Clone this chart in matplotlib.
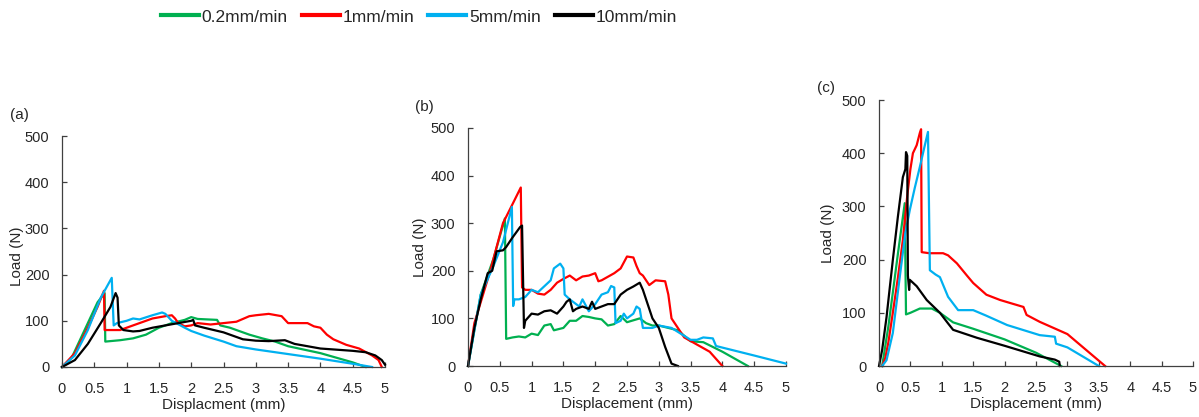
import matplotlib
matplotlib.use('Agg')
from matplotlib import pyplot
from matplotlib.lines import Line2D

# ---- data ----
rates = ['0.2mm/min', '1mm/min', '5mm/min', '10mm/min']
colours = ['#00B050', '#FF0000', '#00B0F0', '#000000']

# panel (a)
a_green_x = [0, 0.15, 0.35, 0.55, 0.66, 0.67, 0.9, 1.1, 1.3, 1.5, 1.7, 1.9, 2.0, 2.1, 2.4, 2.45, 2.6, 2.9, 3.1, 3.3, 3.5, 4.0, 4.5, 4.7]
a_green_y = [0, 20, 80, 140, 160, 55, 58, 62, 70, 85, 95, 102, 108, 104, 102, 90, 85, 70, 62, 55, 45, 30, 10, 0]
a_red_x = [0, 0.2, 0.4, 0.55, 0.65, 0.66, 0.9, 1.0, 1.2, 1.4, 1.6, 1.7, 1.75, 1.8, 1.9, 2.0, 2.1, 2.3, 2.5, 2.7, 2.9, 3.0, 3.2, 3.4, 3.5, 3.8, 3.9, 4.0, 4.1, 4.2, 4.4, 4.6, 4.8, 4.9, 4.95]
a_red_y = [0, 30, 85, 130, 165, 80, 80, 85, 95, 105, 110, 112, 105, 95, 88, 90, 95, 92, 95, 98, 110, 112, 115, 110, 95, 95, 88, 85, 70, 60, 48, 40, 25, 15, 0]
a_blue_x = [0, 0.2, 0.4, 0.6, 0.77, 0.8, 0.85, 1.0, 1.1, 1.2, 1.4, 1.55, 1.6, 1.7, 1.9, 2.0, 2.2, 2.5, 2.7, 3.0, 3.5, 4.0, 4.5, 4.8]
a_blue_y = [0, 25, 80, 150, 193, 90, 95, 100, 105, 103, 112, 118, 115, 100, 85, 78, 68, 55, 45, 38, 28, 18, 7, 0]
a_black_x = [0, 0.2, 0.4, 0.6, 0.75, 0.83, 0.86, 0.88, 0.95, 1.1, 1.2, 1.4, 1.6, 1.8, 2.0, 2.03, 2.06, 2.2, 2.5, 2.6, 2.8, 3.0, 3.2, 3.45, 3.6, 3.8, 4.0, 4.5, 4.7, 4.85, 4.95, 5.0]
a_black_y = [0, 15, 50, 95, 130, 160, 150, 90, 80, 77, 78, 85, 90, 95, 100, 102, 90, 85, 75, 70, 60, 57, 56, 58, 50, 45, 40, 35, 32, 25, 15, 5]

# panel (b)
b_green_x = [0, 0.2, 0.4, 0.58, 0.6, 0.7, 0.8, 0.9, 1.0, 1.1, 1.2, 1.3, 1.35, 1.5, 1.6, 1.7, 1.8, 1.9, 2.0, 2.1, 2.2, 2.3, 2.4, 2.5, 2.7, 2.8, 2.9, 3.0, 3.3, 3.5, 3.7, 4.0, 4.4]
b_green_y = [0, 150, 225, 310, 57, 60, 62, 60, 68, 65, 85, 88, 75, 80, 95, 95, 105, 103, 100, 98, 85, 88, 105, 92, 100, 90, 85, 85, 75, 52, 50, 30, 0]
b_red_x = [0, 0.1, 0.35, 0.55, 0.7, 0.83, 0.85, 0.9, 1.0, 1.1, 1.2, 1.3, 1.4, 1.5, 1.6, 1.7, 1.8, 1.9, 2.0, 2.05, 2.1, 2.3, 2.4, 2.5, 2.6, 2.65, 2.7, 2.75, 2.85, 2.95, 3.1, 3.15, 3.2, 3.3, 3.4, 3.6, 3.8, 4.0]
b_red_y = [0, 90, 200, 300, 340, 375, 165, 160, 160, 152, 150, 160, 175, 183, 190, 180, 188, 190, 195, 178, 180, 195, 205, 230, 228, 210, 195, 190, 170, 180, 178, 150, 100, 80, 60, 45, 30, 0]
b_blue_x = [0, 0.2, 0.4, 0.55, 0.69, 0.71, 0.73, 0.8, 0.9, 1.0, 1.1, 1.3, 1.35, 1.45, 1.5, 1.52, 1.6, 1.7, 1.75, 1.8, 1.9, 2.0, 2.1, 2.2, 2.25, 2.3, 2.32, 2.4, 2.45, 2.5, 2.6, 2.65, 2.7, 2.75, 2.9, 3.0, 3.2, 3.5, 3.6, 3.7, 3.85, 3.9, 4.5, 5.0]
b_blue_y = [0, 150, 210, 260, 334, 126, 140, 140, 145, 160, 155, 180, 205, 215, 205, 150, 140, 130, 125, 140, 115, 130, 150, 155, 168, 165, 90, 95, 110, 100, 110, 125, 120, 80, 80, 85, 80, 55, 55, 60, 58, 42, 22, 5]
b_black_x = [0, 0.1, 0.2, 0.31, 0.38, 0.45, 0.55, 0.6, 0.7, 0.82, 0.85, 0.88, 0.9, 1.0, 1.1, 1.2, 1.3, 1.4, 1.5, 1.55, 1.6, 1.65, 1.7, 1.8, 1.9, 1.95, 2.0, 2.1, 2.2, 2.3, 2.4, 2.5, 2.6, 2.7, 2.75, 2.8, 2.9, 3.0, 3.1, 3.2, 3.3]
b_black_y = [0, 80, 140, 195, 200, 241, 243, 250, 270, 292, 295, 80, 95, 110, 108, 115, 117, 110, 125, 135, 140, 115, 120, 125, 120, 135, 120, 125, 130, 130, 150, 160, 167, 175, 160, 140, 100, 80, 40, 5, 0]

# panel (c)
c_green_x = [0.05, 0.15, 0.3, 0.41, 0.43, 0.5, 0.65, 0.84, 0.97, 1.18, 1.5, 2.0, 2.5, 2.9]
c_green_y = [0, 75, 210, 306, 97, 100, 108, 108, 100, 82, 70, 50, 25, 0]
c_red_x = [0.05, 0.1, 0.15, 0.22, 0.3, 0.38, 0.45, 0.5, 0.54, 0.6, 0.65, 0.67, 0.68, 0.8, 1.02, 1.1, 1.24, 1.4, 1.5, 1.71, 1.93, 2.1, 2.3, 2.35, 2.56, 3.0, 3.6]
c_red_y = [0, 15, 45, 100, 165, 237, 320, 370, 400, 415, 438, 445, 214, 212, 212, 208, 193, 170, 156, 134, 124, 118, 111, 96, 83, 60, 0]
c_blue_x = [0.05, 0.12, 0.22, 0.33, 0.42, 0.49, 0.57, 0.65, 0.72, 0.78, 0.81, 0.9, 0.97, 1.1, 1.26, 1.5, 1.7, 2.04, 2.56, 2.8, 2.82, 3.0, 3.5]
c_blue_y = [0, 11, 62, 167, 250, 293, 335, 374, 410, 440, 180, 172, 167, 130, 105, 105, 95, 77, 58, 55, 42, 35, 0]
c_black_x = [0, 0.05, 0.12, 0.22, 0.3, 0.38, 0.42, 0.43, 0.45, 0.46, 0.48, 0.49, 0.6, 0.76, 0.97, 1.1, 1.18, 1.56, 2.0, 2.56, 2.8, 2.87, 2.88]
c_black_y = [0, 30, 92, 199, 280, 355, 370, 402, 395, 170, 143, 162, 150, 124, 100, 80, 68, 53, 38, 18, 12, 8, 0]

panel_tags = ['(a)', '(b)', '(c)']
xlabels = ['Displacment (mm)', 'Displacement (mm)', 'Displacement (mm)']
xticks = [0, 0.5, 1, 1.5, 2, 2.5, 3, 3.5, 4, 4.5, 5]
xticklabels = ['0', '0.5', '1', '1.5', '2', '2.5', '3', '3.5', '4', '4.5', '5']
yticks = [0, 100, 200, 300, 400, 500]

panels = [
    [(a_green_x, a_green_y), (a_red_x, a_red_y), (a_blue_x, a_blue_y), (a_black_x, a_black_y)],
    [(b_green_x, b_green_y), (b_red_x, b_red_y), (b_blue_x, b_blue_y), (b_black_x, b_black_y)],
    [(c_green_x, c_green_y), (c_red_x, c_red_y), (c_blue_x, c_blue_y), (c_black_x, c_black_y)],
]

# ---- layout (pixels measured on the 1199x417 picture) ----
W, H = 1199., 417.
boxes = [(62, 136, 385, 367), (468, 128, 786, 366), (879, 100, 1193, 366)]
ylabel_pos = [(-0.119, 0.48), (-0.130, 0.50), (-0.139, 0.50)]
tag_pos = [(10, 115), (415, 107), (817, 88)]
axis_grey = '#404040'
text_grey = '#262626'

pyplot.rcParams['font.family'] = ['Liberation Sans', 'DejaVu Sans']
fig = pyplot.figure(figsize=(W/100., H/100.), dpi=100)

for i, series in enumerate(panels):
    x0, y0, x1, y1 = boxes[i]
    ax = fig.add_axes([x0/W, 1-y1/H, (x1-x0)/W, (y1-y0)/H])
    for (xs, ys), colour in zip(series, colours):
        ax.plot(xs, ys, color=colour, lw=1.6, clip_on=False)
    ax.set_xlim(0, 5)
    ax.set_ylim(0, 500)
    ax.set_xticks(xticks)
    ax.set_xticklabels(xticklabels)
    ax.set_yticks(yticks)
    for side in ['top', 'right']:
        ax.spines[side].set_visible(False)
    for side in ['left', 'bottom']:
        ax.spines[side].set_color(axis_grey)
        ax.spines[side].set_linewidth(0.9)
    ax.tick_params(direction='in', length=3.5, width=0.9, color=axis_grey,
                   labelsize=10.5, labelcolor=text_grey)
    ax.tick_params(axis='x', pad=10.5)
    ax.tick_params(axis='y', pad=9)
    ax.set_xlabel(xlabels[i], fontsize=11, color=text_grey, labelpad=2)
    ax.set_ylabel('Load (N)', fontsize=11, color=text_grey)
    ax.yaxis.set_label_coords(*ylabel_pos[i])
    tx, ty = tag_pos[i]
    fig.text(tx/W, 1-ty/H, panel_tags[i], fontsize=11, color=text_grey, va='center', ha='left')

handles = [Line2D([], [], color=c, lw=3) for c in colours]
leg = fig.legend(handles, rates, loc='center', bbox_to_anchor=(419/W, 1-17/H), ncol=4,
                 frameon=False, handlelength=2.18, handletextpad=0.17, columnspacing=0.8,
                 fontsize=12.5)
for t in leg.get_texts():
    t.set_color(text_grey)

pyplot.savefig('out.png', dpi=100)
pyplot.close()
